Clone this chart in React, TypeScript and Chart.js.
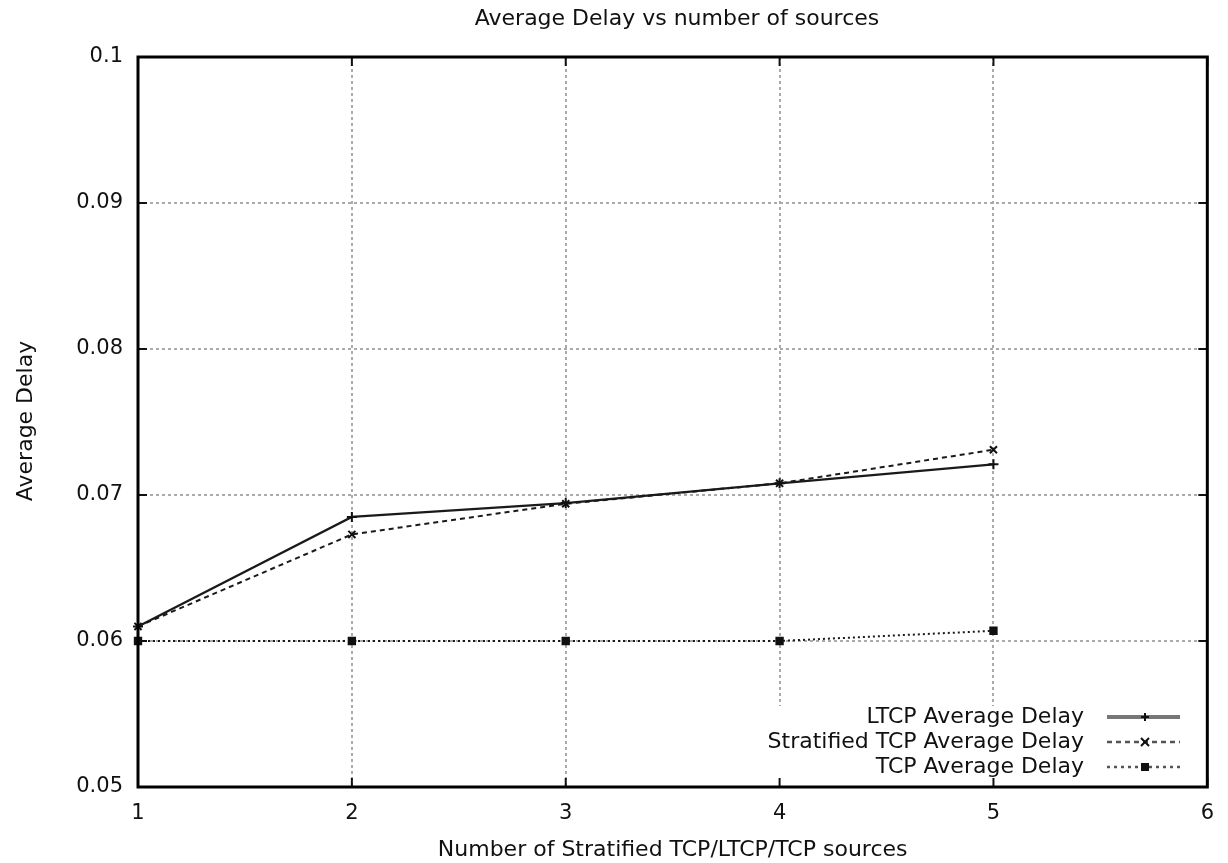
import React, { useEffect, useRef } from "react";
import { Chart, registerables } from "chart.js";

Chart.register(...registerables);

const chartTitle = "Average Delay vs number of sources";
const xAxisTitle = "Number of Stratified TCP/LTCP/TCP sources";
const yAxisTitle = "Average Delay";

const xValues = [1, 2, 3, 4, 5];
const ltcpDelay = [0.061, 0.0685, 0.06945, 0.0708, 0.0721];
const stratifiedDelay = [0.061, 0.0673, 0.0694, 0.0708, 0.0731];
const tcpDelay = [0.06, 0.06, 0.06, 0.06, 0.0607];

const seriesNames = ["LTCP Average Delay", "Stratified TCP Average Delay", "TCP Average Delay"];
const xTickValues = [1, 2, 3, 4, 5, 6];
const yTickLabels = ["0.05", "0.06", "0.07", "0.08", "0.09", "0.1"];

const FONT = '"DejaVu Sans", sans-serif';

const styles = [
  { dash: [] as number[], point: "cross", radius: 5, width: 2.2 },
  { dash: [5, 4], point: "crossRot", radius: 5, width: 2 },
  { dash: [2, 3], point: "rect", radius: 4.5, width: 2 },
];

const deco = {
  id: "gnuplotDeco",
  afterDatasetsDraw(chart: any) {
    const ctx = chart.ctx;
    const a = chart.chartArea;
    const boxLeft = 760;
    const boxTop = 706;
    ctx.save();
    ctx.fillStyle = "#fff";
    ctx.fillRect(boxLeft, boxTop, a.right - boxLeft, a.bottom - boxTop);
    ctx.font = `22px ${FONT}`;
    ctx.textAlign = "right";
    ctx.textBaseline = "middle";
    ctx.fillStyle = "#111";
    const rows = [717, 742, 767];
    seriesNames.forEach((name, i) => {
      const y = rows[i];
      ctx.fillStyle = "#111";
      ctx.fillText(name, 1084, y);
      const st = styles[i];
      ctx.strokeStyle = i === 0 ? "#777" : "#555";
      ctx.lineWidth = i === 0 ? 4 : 2.5;
      ctx.setLineDash(st.dash.length ? [5, 4] : []);
      if (i === 2) ctx.setLineDash([3, 4]);
      ctx.beginPath();
      ctx.moveTo(1107, y);
      ctx.lineTo(1180, y);
      ctx.stroke();
      ctx.setLineDash([]);
      ctx.fillStyle = "#111";
      ctx.strokeStyle = "#111";
      ctx.lineWidth = 2;
      const cx = 1145;
      if (i === 0) {
        ctx.beginPath();
        ctx.moveTo(cx - 4, y); ctx.lineTo(cx + 4, y);
        ctx.moveTo(cx, y - 4); ctx.lineTo(cx, y + 4);
        ctx.stroke();
      } else if (i === 1) {
        ctx.beginPath();
        ctx.moveTo(cx - 4, y - 4); ctx.lineTo(cx + 4, y + 4);
        ctx.moveTo(cx + 4, y - 4); ctx.lineTo(cx - 4, y + 4);
        ctx.stroke();
      } else {
        ctx.fillRect(cx - 4, y - 4, 8, 8);
      }
    });
    ctx.restore();
  },
  afterDraw(chart: any) {
    const ctx = chart.ctx;
    const a = chart.chartArea;
    const xs = chart.scales.x;
    const ys = chart.scales.y;
    ctx.save();
    ctx.strokeStyle = "#111";
    ctx.lineWidth = 2;
    ctx.beginPath();
    xTickValues.forEach((v) => {
      const px = xs.getPixelForValue(v);
      ctx.moveTo(px, a.bottom); ctx.lineTo(px, a.bottom - 9);
      ctx.moveTo(px, a.top); ctx.lineTo(px, a.top + 9);
    });
    yTickLabels.forEach((l) => {
      const py = ys.getPixelForValue(parseFloat(l));
      ctx.moveTo(a.left, py); ctx.lineTo(a.left + 9, py);
      ctx.moveTo(a.right, py); ctx.lineTo(a.right - 9, py);
    });
    ctx.stroke();
    ctx.strokeStyle = "#000";
    ctx.lineWidth = 3;
    ctx.strokeRect(a.left, a.top, a.right - a.left, a.bottom - a.top);
    ctx.fillStyle = "#111";
    ctx.font = `22px ${FONT}`;
    ctx.textAlign = "center";
    ctx.textBaseline = "middle";
    ctx.fillText(chartTitle, 677, 19);
    ctx.fillText(xAxisTitle, (a.left + a.right) / 2, 850);
    ctx.translate(26, 421);
    ctx.rotate(-Math.PI / 2);
    ctx.fillText(yAxisTitle, 0, 0);
    ctx.restore();
  },
};

export default function App() {
  const ref = useRef<HTMLCanvasElement | null>(null);
  useEffect(() => {
    if (!ref.current) return;
    const series = [ltcpDelay, stratifiedDelay, tcpDelay];
    const chart = new Chart(ref.current, {
      type: "line",
      data: {
        datasets: series.map((vals, i) => ({
          label: seriesNames[i],
          data: xValues.map((x, j) => ({ x, y: vals[j] })),
          borderColor: "#1a1a1a",
          backgroundColor: "#111",
          borderWidth: styles[i].width,
          borderDash: styles[i].dash,
          pointStyle: styles[i].point as any,
          pointRadius: styles[i].radius,
          pointBorderWidth: 2,
          pointBorderColor: "#111",
          pointBackgroundColor: "#111",
          tension: 0,
          fill: false,
          clip: false as any,
        })),
      },
      options: {
        animation: false,
        responsive: true,
        maintainAspectRatio: false,
        layout: { padding: { top: 57, right: 16, left: 0, bottom: 0 } },
        plugins: { legend: { display: false }, title: { display: false }, tooltip: { enabled: false } },
        scales: {
          x: {
            type: "linear",
            min: 1,
            max: 6,
            afterFit: (s: any) => { s.height = 76; },
            afterBuildTicks: (s: any) => { s.ticks = xTickValues.map((v) => ({ value: v })); },
            ticks: { color: "#111", font: { family: FONT, size: 21 }, padding: 14, callback: (v: any) => String(v), maxRotation: 0 },
            grid: { color: "#aaa", lineWidth: 2, drawTicks: false, tickLength: 0 },
            border: { display: false, dash: [3, 3] },
          },
          y: {
            type: "linear",
            min: 0.05,
            max: 0.1,
            afterFit: (s: any) => { s.width = 138; },
            afterBuildTicks: (s: any) => { s.ticks = yTickLabels.map((l) => ({ value: parseFloat(l) })); },
            ticks: {
              color: "#111",
              font: { family: FONT, size: 21 },
              padding: 15,
              callback: (v: any) => yTickLabels.find((l) => Math.abs(parseFloat(l) - v) < 1e-9) ?? "",
            },
            grid: { color: "#aaa", lineWidth: 2, drawTicks: false, tickLength: 0 },
            border: { display: false, dash: [3, 3] },
          },
        },
      },
      plugins: [deco],
    });
    return () => chart.destroy();
  }, []);
  return (
    <div style={{ position: "fixed", left: 0, top: 0, width: 1228, height: 863, background: "#fff" }}>
      <canvas ref={ref} />
    </div>
  );
}
